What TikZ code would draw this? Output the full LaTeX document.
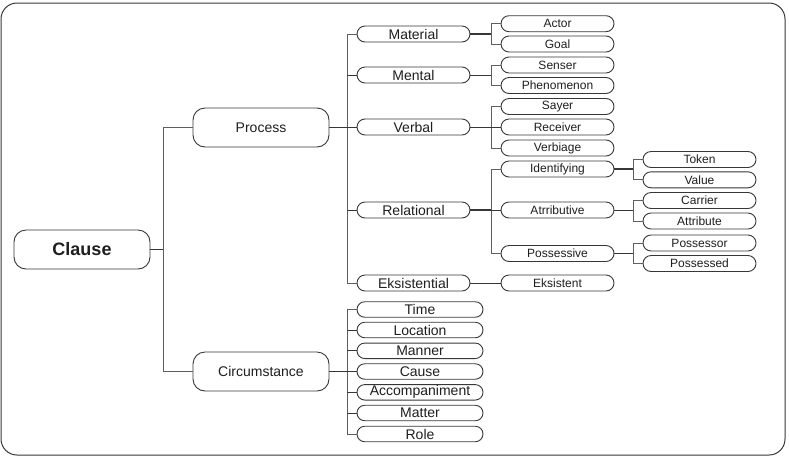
\documentclass[tikz,border=0pt]{standalone}
\usepackage{fontspec}
\setmainfont{Liberation Sans}
\definecolor{ln}{RGB}{55,55,55}
\definecolor{tx}{RGB}{30,30,30}
\begin{document}
\begin{tikzpicture}[x=1pt,y=-1pt,
  base/.style={draw=ln,line width=0.9pt,text=tx,inner sep=0pt,align=center},
  big/.style={base,rounded corners=12pt,minimum width=136pt,minimum height=39pt,font=\fontsize{14}{14}\selectfont},
  lvtwo/.style={base,rounded corners=8pt,minimum width=113pt,minimum height=16pt,font=\fontsize{14}{14}\selectfont},
  lvcirc/.style={base,rounded corners=7.75pt,minimum width=126pt,minimum height=15.5pt,font=\fontsize{14}{14}\selectfont},
  lvthree/.style={base,rounded corners=8pt,minimum width=113pt,minimum height=16pt,font=\fontsize{12}{12}\selectfont},
  conn/.style={draw=ln,line width=0.9pt},
  trunk/.style={draw=ln!80,line width=1pt}
]
\useasboundingbox (0,0) rectangle (789,456);
\draw[draw=ln,line width=1pt,rounded corners=16pt] (1,3) rectangle (785,455);

% level 1
\node[big,font=\fontsize{18}{18}\selectfont\bfseries] (clause) at (82,249.5) {Clause};
\node[big] (process) at (261,127.5) {Process};
\node[big] (circ) at (261,371.5) {Circumstance};

% level 2 (process)
\node[lvtwo] (material) at (413.5,34) {Material};
\node[lvtwo] (mental) at (413.5,75) {Mental};
\node[lvtwo] (verbal) at (413.5,127) {Verbal};
\node[lvtwo] (relational) at (413.5,210) {Relational};
\node[lvtwo] (eksistential) at (413.5,283) {Eksistential};

% circumstance children
\node[lvcirc] (time) at (420,309.5) {Time};
\node[lvcirc] (location) at (420,330) {Location};
\node[lvcirc] (manner) at (420,350.8) {Manner};
\node[lvcirc] (cause) at (420,371.5) {Cause};
\node[lvcirc] (accomp) at (420,392.3) {Accompaniment};
\node[lvcirc] (matter) at (420,413) {Matter};
\node[lvcirc] (role) at (420,434) {Role};

% level 3
\node[lvthree] (actor) at (557.5,23.7) {Actor};
\node[lvthree] (goal) at (557.5,44) {Goal};
\node[lvthree] (senser) at (557.5,65) {Senser};
\node[lvthree] (phenomenon) at (557.5,85.5) {Phenomenon};
\node[lvthree] (sayer) at (557.5,106.5) {Sayer};
\node[lvthree] (receiver) at (557.5,127) {Receiver};
\node[lvthree] (verbiage) at (557.5,148) {Verbiage};
\node[lvthree] (identifying) at (557.5,169) {Identifying};
\node[lvthree] (atrributive) at (557.5,210) {Atrributive};
\node[lvthree] (possessive) at (557.5,253.5) {Possessive};
\node[lvthree] (eksistent) at (557.5,283) {Eksistent};

% level 4
\node[lvthree] (token) at (699.5,159.5) {Token};
\node[lvthree] (value) at (699.5,179.8) {Value};
\node[lvthree] (carrier) at (699.5,200.5) {Carrier};
\node[lvthree] (attribute) at (699.5,221) {Attribute};
\node[lvthree] (possessor) at (699.5,243) {Possessor};
\node[lvthree] (possessed) at (699.5,263.5) {Possessed};

% junction coordinates
\coordinate (ja) at (163,0);
\coordinate (jb) at (347,0);
\coordinate (jc) at (491,0);
\coordinate (jd) at (633,0);

% Clause
\draw[conn] (clause.east) -- (clause.east -| ja);
\draw[trunk] (process.west) -- (process.west -| ja) -- (circ.west -| ja) -- (circ.west);

% Process
\draw[conn] (process.east) -- (process.east -| jb);
\draw[trunk] (material.west) -- (material.west -| jb) -- (eksistential.west -| jb) -- (eksistential.west);
\foreach \n in {mental,verbal,relational}{\draw[conn] (\n.west -| jb) -- (\n.west);}

% Circumstance
\draw[conn,line width=1.4pt] (circ.east) -- (circ.east -| jb);
\draw[trunk] (time.west) -- (time.west -| jb) -- (role.west -| jb) -- (role.west);
\foreach \n in {location,manner,cause,accomp,matter}{\draw[conn] (\n.west -| jb) -- (\n.west);}

% Material
\draw[conn,line width=1.4pt] (material.east) -- (material.east -| jc);
\draw[trunk] (actor.west) -- (actor.west -| jc) -- (goal.west -| jc) -- (goal.west);
% Mental
\draw[conn] (mental.east) -- (mental.east -| jc);
\draw[trunk] (senser.west) -- (senser.west -| jc) -- (phenomenon.west -| jc) -- (phenomenon.west);
% Verbal
\draw[conn] (verbal.east) -- (verbal.east -| jc);
\draw[trunk] (sayer.west) -- (sayer.west -| jc) -- (verbiage.west -| jc) -- (verbiage.west);
\draw[conn] (receiver.west -| jc) -- (receiver.west);
% Relational
\draw[conn,line width=1.4pt] (relational.east) -- (relational.east -| jc);
\draw[trunk] (identifying.west) -- (identifying.west -| jc) -- (possessive.west -| jc) -- (possessive.west);
\draw[conn] (atrributive.west -| jc) -- (atrributive.west);
% Eksistential
\draw[conn] (eksistential.east) -- (eksistent.west);

% Identifying
\draw[conn,line width=1.4pt] (identifying.east) -- (identifying.east -| jd);
\draw[trunk] (token.west) -- (token.west -| jd) -- (value.west -| jd) -- (value.west);
% Atrributive
\draw[conn] (atrributive.east) -- (atrributive.east -| jd);
\draw[trunk] (carrier.west) -- (carrier.west -| jd) -- (attribute.west -| jd) -- (attribute.west);
% Possessive
\draw[conn] (possessive.east) -- (possessive.east -| jd);
\draw[trunk] (possessor.west) -- (possessor.west -| jd) -- (possessed.west -| jd) -- (possessed.west);
\end{tikzpicture}
\end{document}
